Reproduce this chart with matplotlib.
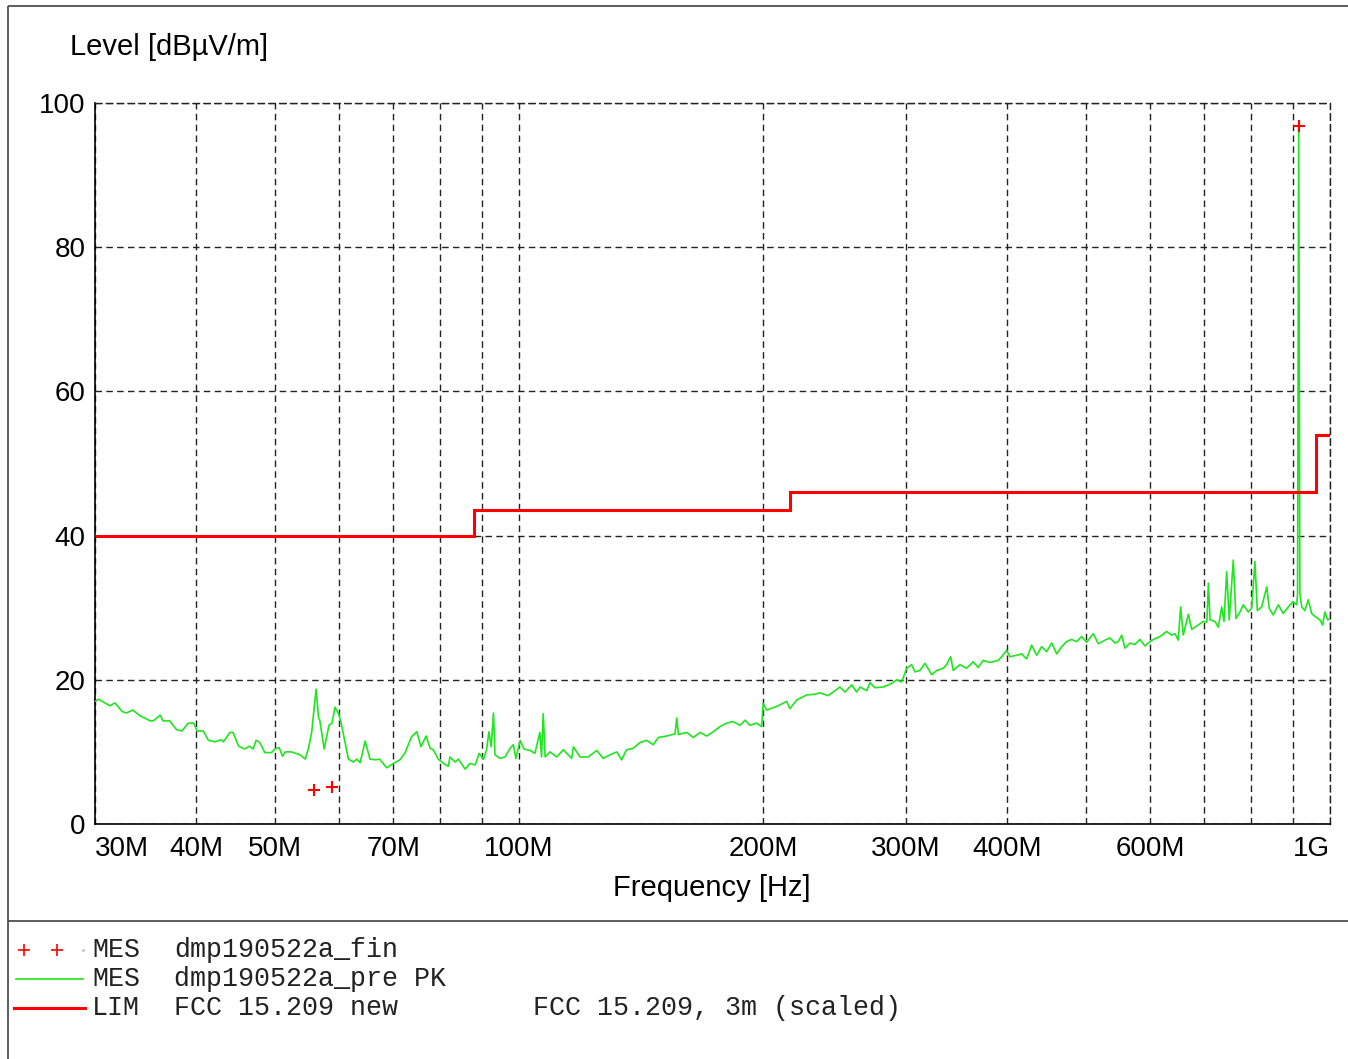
import matplotlib
matplotlib.use("Agg")
import matplotlib.pyplot as plt

plt.rcParams['font.family'] = ['Liberation Sans', 'DejaVu Sans']
plt.rcParams['lines.scale_dashes'] = False

# pre-scan peak trace (MHz, dBuV/m)
pre_freq = [30.0, 30.3, 31.3, 31.75, 32.4, 32.8, 33.4, 34.1, 35.1, 35.4, 36.1, 36.4, 37.1, 37.8,
            38.4, 39.1, 39.7, 40.1, 40.8, 41.4, 42.2, 42.9, 43.2, 44.0, 44.4, 45.1, 45.9, 46.5,
            47.0, 47.4, 47.9, 48.6, 49.5, 50.0, 50.6, 51.1, 51.5, 52.4, 53.7, 54.5, 55.0, 55.5,
            56.2, 56.6, 56.8, 57.5, 58.3, 58.8, 59.3, 59.9, 60.3, 61.6, 62.5, 63.1, 63.7, 64.6,
            65.5, 66.6, 67.3, 68.7, 70.0, 71.3, 72.3, 73.7, 74.8, 75.7, 76.8, 77.7, 78.4, 79.5,
            80.7, 81.8, 82.2, 83.4, 84.2, 85.8, 87.0, 88.3, 89.3, 90.4, 91.2, 91.8, 92.4, 93.0,
            93.4, 94.7, 96.1, 97.5, 98.4, 99.1, 100.3, 101.4, 103.2, 104.6, 106.1, 106.6, 107.1,
            107.7, 109.2, 111.3, 113.4, 116.1, 116.7, 118.9, 121.7, 124.7, 127.0, 129.5, 132.0,
            133.8, 135.7, 138.3, 141.0, 143.7, 146.4, 148.5, 152.1, 155.7, 156.5, 157.2, 161.0,
            164.0, 167.2, 170.4, 173.6, 176.9, 180.3, 183.7, 187.3, 190.0, 192.6, 196.4, 199.1,
            200.0, 202.0, 207.8, 213.8, 215.8, 220.0, 226.3, 231.7, 235.0, 240.6, 248.7, 252.3,
            257.2, 260.8, 263.3, 268.4, 270.9, 274.7, 281.3, 288.1, 292.2, 296.4, 300.6, 304.9,
            307.8, 312.2, 316.6, 322.7, 327.4, 333.5, 336.7, 340.6, 343.1, 349.7, 356.4, 363.2,
            368.3, 373.6, 380.8, 389.9, 393.7, 399.3, 403.0, 410.8, 416.7, 422.6, 428.7, 434.9,
            441.0, 447.3, 453.8, 460.2, 466.8, 473.5, 480.2, 487.1, 494.0, 501.1, 510.7, 517.9,
            527.9, 535.4, 543.1, 548.2, 553.6, 558.6, 566.7, 574.8, 583.0, 591.3, 599.9, 608.3,
            617.1, 628.8, 637.9, 644.0, 649.9, 654.4, 659.3, 668.8, 675.3, 688.0, 697.9, 705.0,
            707.9, 711.4, 721.4, 728.3, 735.3, 740.1, 745.7, 751.2, 759.9, 765.7, 774.4, 781.8,
            793.0, 800.6, 808.1, 813.5, 823.7, 835.6, 841.6, 851.2, 863.5, 875.8, 888.3, 899.5,
            909.9, 912.0, 915.0, 918.0, 922.8, 931.4, 940.2, 949.3, 958.1, 971.9, 979.3, 985.6,
            993.4, 1000.0]
pre_level = [17.0, 17.3, 16.4, 16.8, 15.6, 15.4, 15.8, 15.0, 14.3, 14.3, 15.1, 14.3, 14.3, 13.1,
             12.9, 14.0, 14.0, 12.9, 12.9, 11.6, 11.4, 11.7, 11.4, 12.7, 12.7, 10.8, 10.4, 10.8,
             10.4, 11.6, 11.3, 9.9, 9.9, 10.4, 10.6, 9.4, 10.0, 10.0, 9.6, 9.0, 10.5, 12.7,
             18.7, 14.7, 14.4, 10.4, 13.7, 14.0, 16.2, 15.3, 14.2, 9.0, 8.6, 9.0, 8.5, 11.5,
             9.0, 8.9, 9.0, 7.8, 8.4, 8.9, 9.8, 12.1, 12.8, 10.7, 12.2, 10.5, 10.3, 9.0,
             8.4, 8.0, 9.3, 8.6, 9.0, 7.6, 8.4, 8.2, 9.8, 9.0, 10.3, 12.8, 10.7, 15.4,
             9.6, 9.1, 9.3, 10.5, 11.0, 9.1, 11.6, 10.4, 10.2, 9.8, 12.7, 9.3, 15.3,
             9.3, 10.0, 9.3, 10.3, 9.1, 10.7, 9.3, 9.3, 10.2, 9.1, 9.6, 10.0,
             8.9, 10.3, 10.5, 11.3, 11.6, 11.0, 12.0, 12.2, 12.5, 14.7, 12.4, 12.7,
             12.0, 12.7, 12.2, 12.8, 13.5, 14.0, 14.2, 13.7, 14.4, 13.7, 14.0, 13.5,
             16.7, 15.8, 16.3, 17.0, 16.0, 17.2, 17.9, 18.0, 18.2, 17.8, 19.0, 18.3,
             19.3, 18.3, 19.0, 18.5, 19.6, 18.9, 19.0, 19.5, 20.0, 19.7, 21.6, 22.1,
             21.1, 21.3, 22.3, 20.7, 21.3, 21.6, 22.1, 23.2, 21.3, 22.1, 21.6, 22.5,
             21.7, 22.7, 22.4, 22.7, 23.2, 24.1, 23.2, 23.4, 23.6, 22.9, 24.8, 23.4,
             24.6, 23.9, 25.1, 23.6, 24.6, 25.3, 25.6, 25.3, 26.0, 25.2, 26.4, 25.0,
             25.5, 25.8, 25.1, 25.3, 26.2, 24.4, 25.1, 24.9, 25.6, 24.7, 25.3, 25.7,
             26.0, 26.7, 26.2, 26.4, 25.5, 30.1, 26.2, 29.1, 27.0, 27.6, 28.1, 28.0,
             33.4, 28.3, 28.1, 27.3, 30.1, 28.1, 35.0, 28.3, 36.6, 28.5, 29.4, 30.4,
             29.4, 29.9, 36.4, 29.6, 30.1, 32.9, 29.9, 29.0, 30.4, 29.2, 30.1, 30.8,
             30.4, 32.0, 96.8, 32.0, 30.1, 29.6, 31.1, 29.2, 28.8, 28.3, 27.6, 29.4,
             28.3, 28.5]

# final measurement points
fin_freq = [55.9, 58.8, 915.0]
fin_level = [4.7, 5.1, 96.8]

# FCC 15.209 limit, 3 m (scaled)
lim_edges = [30, 88, 216, 960, 1000]
lim_levels = [40, 43.5, 46, 54]

grid_freqs = [30, 40, 50, 60, 70, 80, 90, 100, 200, 300, 400, 500, 600, 700, 800, 900, 1000]
grid_labels = ['30M', '40M', '50M', '', '70M', '', '', '100M', '200M', '300M', '400M', '',
               '600M', '', '', '', '1G']
y_ticks = [0, 20, 40, 60, 80, 100]

W, H = 1348, 1059
fig = plt.figure(figsize=(W / 100, H / 100), dpi=100)

# frame and legend area in pixel coordinates
frame = fig.add_axes([0, 0, 1, 1])
frame.set_xlim(0, W)
frame.set_ylim(H, 0)
frame.axis('off')
border = dict(color='#505050', lw=1.3, solid_capstyle='butt')
frame.plot([8, W], [6, 6], **border)
frame.plot([8, 8], [6, H], **border)
frame.plot([8, W], [921, 921], **border)

frame.plot([24, 57], [950, 950], '+', color='red', ms=8, mew=1.2)
frame.plot([83], [950], '.', color='#bbbbbb', ms=2)
frame.plot([16, 83], [979, 979], color='#1fe61f', lw=1.2)
frame.plot([14, 85], [1008, 1008], color='red', lw=2.2)
mono = dict(family='Liberation Mono', fontsize=19.2, color='#222222', va='center')
for yy, a, b in [(950, 'MES', 'dmp190522a_fin'),
                 (979, 'MES', 'dmp190522a_pre PK'),
                 (1008, 'LIM', 'FCC 15.209 new')]:
    frame.text(92, yy, a, **mono)
    frame.text(174, yy, b, **mono)
frame.text(533, 1008, 'FCC 15.209, 3m (scaled)', **mono)

# plot area
ax = fig.add_axes([95 / W, 1 - 824 / H, (1330 - 95) / W, (824 - 103) / H])
ax.set_xscale('log')
ax.set_xlim(30, 1000)
ax.set_ylim(0, 100)

dash = (0, (4.7, 3.1))
ax.grid(True, which='major', color='#222222', lw=1.0, ls=dash)
for s in ['left', 'bottom']:
    ax.spines[s].set_linewidth(1.2)
for s in ['top', 'right']:
    ax.spines[s].set_linestyle(dash)
    ax.spines[s].set_linewidth(1.0)
    ax.spines[s].set_color('#222222')

ax.set_xticks(grid_freqs)
ax.set_xticklabels(grid_labels)
ax.minorticks_off()
ax.set_yticks(y_ticks)
ax.tick_params(axis='both', length=0, labelsize=20)
ax.tick_params(axis='x', pad=9)
ax.tick_params(axis='y', pad=7)
xl = ax.get_xticklabels()
xl[0].set_ha('left')
xl[-1].set_ha('right')

ax.plot(pre_freq, pre_level, color='#1fe61f', lw=1.2, zorder=3)
ax.stairs(lim_levels, lim_edges, baseline=None, color='red', lw=2.2, zorder=4)
ax.plot(fin_freq, fin_level, '+', color='red', ms=9, mew=1.5, zorder=5)

fig.text(70 / W, 1 - 47 / H, 'Level [dBµV/m]', fontsize=21, va='center', ha='left')
fig.text(712 / W, 1 - 888 / H, 'Frequency [Hz]', fontsize=21, va='center', ha='center')

fig.savefig('out.png', dpi=100)
